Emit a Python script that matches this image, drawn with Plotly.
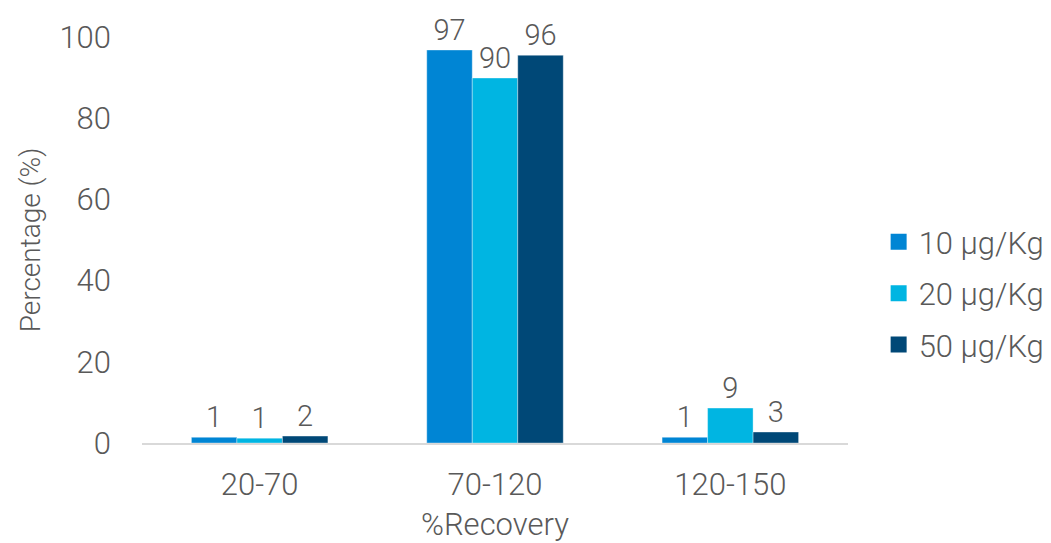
import plotly.graph_objects as go

# Recovery ranges and the share of results in each, per spiking level
categories = ["20-70", "70-120", "120-150"]
series_names = ["10 µg/Kg", "20 µg/Kg", "50 µg/Kg"]
values_10 = [1.4, 96.8, 1.4]
values_20 = [1.2, 89.9, 8.6]
values_50 = [1.7, 95.5, 2.7]
colors = ["#0085D4", "#00B5E2", "#004877"]

FONT = "Roboto"
GREY = "#595959"

fig = go.Figure()
for name, vals, col in zip(series_names, [values_10, values_20, values_50], colors):
    fig.add_trace(go.Bar(
        x=categories, y=vals, name=name, showlegend=False,
        marker=dict(color=col, line=dict(color="rgba(255,255,255,0.6)", width=0.6)),
        texttemplate="%{y:.0f}", textposition="outside",
        textfont=dict(family=FONT, size=29, color=GREY, weight=300),
        cliponaxis=False, constraintext="none",
    ))

# Legend entries drawn as larger square swatches
for name, col in zip(series_names, colors):
    fig.add_trace(go.Scatter(
        x=[None], y=[None], mode="markers", name=name, legendgroup=name,
        marker=dict(symbol="square", size=16, color=col),
    ))

fig.update_layout(
    width=1051, height=543,
    margin=dict(l=142, r=203, t=37, b=100, autoexpand=False),
    paper_bgcolor="white", plot_bgcolor="white",
    barmode="group", bargap=0.42, bargroupgap=0,
    font=dict(family=FONT, color=GREY, weight=300),
    showlegend=True,
    legend=dict(
        xref="container", yref="container",
        x=0.836, y=0.46, xanchor="left", yanchor="middle",
        font=dict(family=FONT, size=31, color=GREY, weight=300),
        itemsizing="trace", itemwidth=30, tracegroupgap=8,
        traceorder="grouped",
    ),
    xaxis=dict(
        showline=True, linecolor="#D9D9D9", linewidth=2,
        showgrid=False, ticks="", ticklabelstandoff=13,
        tickfont=dict(family=FONT, size=31, color=GREY, weight=300),
        title=dict(text="%Recovery", standoff=13,
                   font=dict(family=FONT, size=31, color=GREY, weight=300)),
    ),
    yaxis=dict(
        range=[0, 100], dtick=20, showline=False, showgrid=False,
        zeroline=False, ticks="", ticklabelstandoff=30,
        tickfont=dict(family=FONT, size=31, color=GREY, weight=300),
        title=dict(text="Percentage (%)", standoff=10,
                   font=dict(family=FONT, size=28, color=GREY, weight=300)),
    ),
)

fig.write_html("out.html")
